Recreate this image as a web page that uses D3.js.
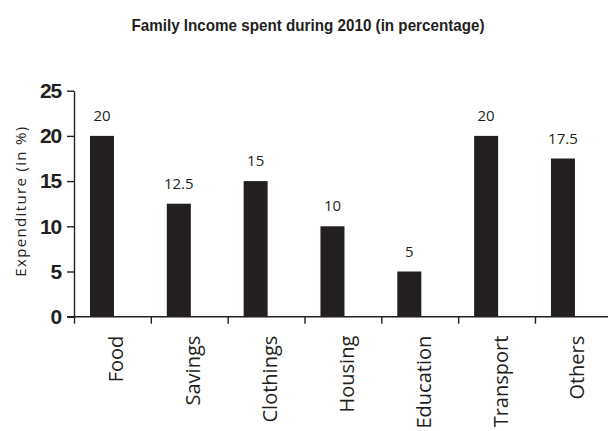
<!DOCTYPE html>
<html>
<head>
<meta charset="utf-8">
<script src="https://cdn.jsdelivr.net/npm/d3@7"></script>
<style>
  html, body { margin: 0; padding: 0; background: #fff; }
  svg { display: block; }
</style>
</head>
<body>
<svg id="chart" width="608" height="431"></svg>
<script>
// Share of family income by spending head, 2010
const categories = ["Food", "Savings", "Clothings", "Housing", "Education", "Transport", "Others"];
const expenditure = [20, 12.5, 15, 10, 5, 20, 17.5];
const yTicks = [0, 5, 10, 15, 20, 25];
const titleText = "Family Income spent during 2010  (in percentage)";
const yTitle = "Expenditure (in %)";

const ink = "#231f20";
const svg = d3.select("#chart");

const plotLeft = 74, plotRight = 611.8, plotBottom = 316.7, plotTop = 90.7;

const x = d3.scaleBand().domain(categories).range([plotLeft, plotRight]).padding(0);
const y = d3.scaleLinear().domain([0, 25]).range([plotBottom, plotTop]);
const bw = x.bandwidth();

// title
svg.append("text")
  .attr("x", 308).attr("y", 31)
  .attr("text-anchor", "middle")
  .attr("font-family", "Liberation Sans, Arial, sans-serif")
  .attr("font-weight", "bold")
  .attr("font-size", 16.5)
  .attr("textLength", 353)
  .attr("lengthAdjust", "spacingAndGlyphs")
  .attr("fill", ink)
  .text(titleText);

// bars
svg.append("g").selectAll("rect")
  .data(categories)
  .join("rect")
  .attr("x", d => x(d) + bw * 0.208)
  .attr("width", bw * 0.3125)
  .attr("y", (d, i) => y(expenditure[i]))
  .attr("height", (d, i) => y(0) - y(expenditure[i]))
  .attr("fill", ink);

// value labels above bars
svg.append("g").selectAll("text")
  .data(categories)
  .join("text")
  .attr("x", d => x(d) + bw * 0.208 + bw * 0.3125 / 2)
  .attr("y", (d, i) => y(expenditure[i]) - 15)
  .attr("text-anchor", "middle")
  .attr("font-family", "Open Sans, sans-serif")
  .attr("font-size", 15)
  .attr("fill", ink)
  .text((d, i) => expenditure[i]);

// y axis
const yAxis = svg.append("g")
  .attr("transform", `translate(${plotLeft},0)`)
  .call(d3.axisLeft(y).tickValues(yTicks).tickSize(7).tickSizeOuter(0).tickPadding(6));
yAxis.select(".domain").attr("stroke", ink).attr("stroke-width", 1.4);
yAxis.selectAll(".tick line").attr("stroke", ink).attr("stroke-width", 1.4);
yAxis.selectAll(".tick text")
  .attr("font-family", "Liberation Sans, Arial, sans-serif")
  .attr("font-weight", "bold")
  .attr("font-size", 21)
  .attr("letter-spacing", -1.2)
  .attr("fill", ink);

// x axis: ticks on category boundaries
const idx = d3.scaleLinear().domain([0, categories.length]).range([plotLeft, plotRight]);
const xAxis = svg.append("g")
  .attr("transform", `translate(0,${plotBottom})`)
  .call(d3.axisBottom(idx).tickValues(d3.range(categories.length)).tickSize(7).tickSizeOuter(0).tickFormat(""));
xAxis.select(".domain").attr("stroke", ink).attr("stroke-width", 1.4)
  .attr("d", `M${plotLeft - 7},0H${plotRight}`);
xAxis.selectAll(".tick line").attr("stroke", ink).attr("stroke-width", 1.4);

// category labels, rotated
svg.append("g").selectAll("text")
  .data(categories)
  .join("text")
  .attr("transform", d => `translate(${x(d) + bw / 2 + 4},${plotBottom + 19}) rotate(-90)`)
  .attr("dy", "0.35em")
  .attr("text-anchor", "end")
  .attr("font-family", "Open Sans, sans-serif")
  .attr("font-size", 20)
  .attr("fill", ink)
  .text(d => d);

// y axis title
svg.append("text")
  .attr("transform", "translate(25.5,201.7) rotate(-90)")
  .attr("text-anchor", "middle")
  .attr("font-family", "Open Sans, sans-serif")
  .attr("font-size", 15)
  .attr("textLength", 150)
  .attr("lengthAdjust", "spacing")
  .attr("fill", ink)
  .text(yTitle);
</script>
</body>
</html>
